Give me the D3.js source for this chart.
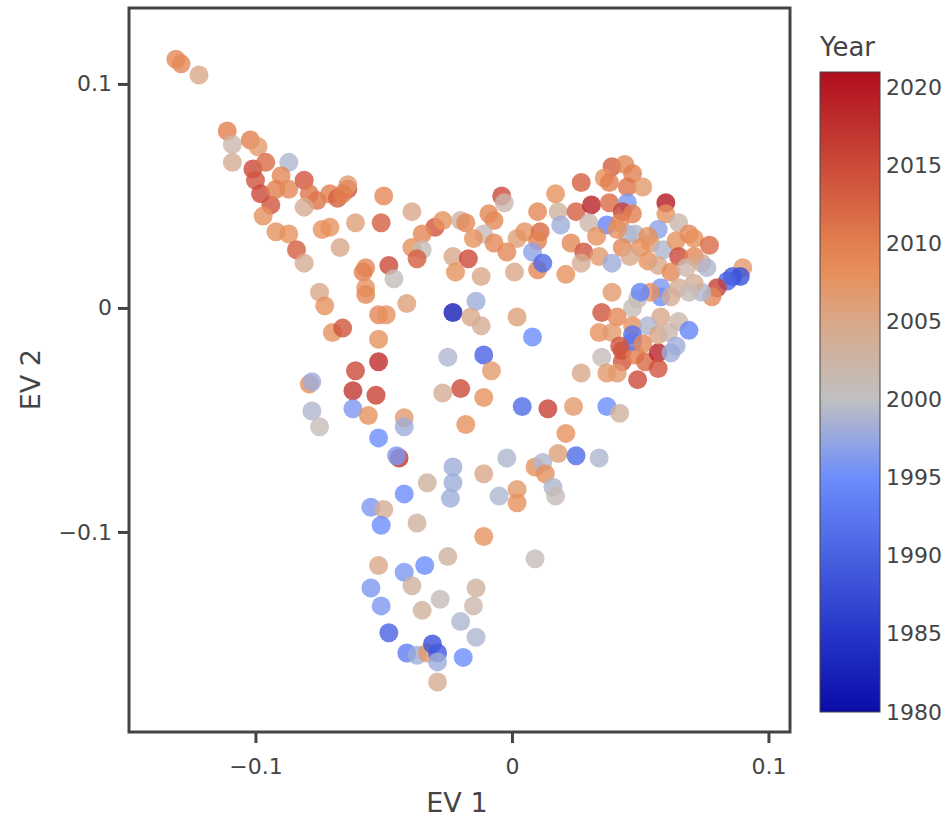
<!DOCTYPE html>
<html>
<head>
<meta charset="utf-8">
<script src="https://cdn.jsdelivr.net/npm/d3@7"></script>
<style>
  body { margin: 0; background: #fff; }
  svg text { font-family: "DejaVu Sans", Verdana, sans-serif; fill: #444; }
</style>
</head>
<body>
<div id="main_div"></div>
<script>
/** data **/
const ev1 = [
  -0.131,-0.129,-0.122,-0.111,-0.109,-0.102,-0.099,-0.109,-0.101,-0.096,
  -0.087,-0.100,-0.090,-0.098,-0.094,-0.092,-0.087,-0.081,-0.079,-0.076,
  -0.081,-0.071,-0.068,-0.064,-0.064,-0.066,-0.097,-0.092,-0.087,-0.074,
  -0.071,-0.061,-0.051,-0.050,-0.084,-0.081,-0.067,-0.057,-0.058,-0.057,
  -0.057,-0.075,-0.073,-0.070,-0.066,-0.052,-0.049,-0.052,-0.052,-0.061,
  -0.062,-0.053,-0.079,-0.078,-0.062,-0.056,-0.078,-0.075,
  -0.039,-0.030,-0.027,-0.020,-0.018,-0.035,-0.039,-0.035,-0.037,-0.009,
  -0.007,-0.004,-0.003,-0.011,-0.015,-0.007,0.002,0.005,0.011,0.010,
  0.010,0.017,0.018,0.019,0.025,0.027,0.031,0.030,0.023,0.028,
  0.027,-0.048,-0.046,-0.023,-0.017,-0.022,-0.012,-0.002,0.001,0.008,
  0.010,0.012,0.021,-0.041,-0.023,-0.014,-0.016,-0.012,0.002,0.008,
  -0.042,-0.042,-0.044,-0.045,-0.052,-0.025,-0.011,-0.008,-0.020,-0.027,
  -0.011,-0.018,0.004,0.014,0.024,0.027,0.021,0.018,0.025,0.034,
  -0.002,0.009,0.012,0.013,0.016,0.017,-0.023,-0.023,-0.024,-0.033,
  -0.011,-0.005,0.002,0.002,-0.042,-0.055,-0.050,-0.051,-0.037,-0.011,
  0.009,-0.025,-0.052,-0.042,-0.034,-0.039,-0.055,-0.014,-0.028,-0.015,
  -0.035,-0.051,-0.020,-0.048,-0.014,-0.041,-0.037,-0.033,-0.031,-0.029,
  -0.029,-0.019,-0.029,
  0.035,0.043,0.043,0.048,0.052,0.057,0.057,0.049,0.062,0.037,
  0.041,0.047,0.037,0.042,
  0.039,0.044,0.047,0.036,0.038,0.045,0.051,0.038,0.045,0.043,
  0.047,0.060,0.060,0.065,0.037,0.042,0.045,0.048,0.057,0.053,
  0.041,0.033,0.054,0.043,0.050,0.059,0.064,0.069,0.071,0.077,
  0.065,0.071,0.034,0.039,0.046,0.053,0.057,0.062,0.074,0.076,
  0.068,0.090,0.086,0.089,0.084,0.080,0.078,0.074,0.071,0.065,
  0.058,0.058,0.054,0.062,0.069,0.039,0.049,0.050,0.047,0.058,
  0.065,0.069,0.035,0.041,0.047,0.053,0.047,0.034,0.039,0.057,
  0.061,0.042,0.064,0.051
];
const ev2 = [
  0.111,0.109,0.104,0.079,0.073,0.075,0.072,0.065,0.062,0.065,
  0.065,0.057,0.059,0.051,0.046,0.053,0.053,0.057,0.051,0.048,
  0.045,0.051,0.049,0.053,0.055,0.051,0.041,0.034,0.033,0.035,
  0.036,0.038,0.038,0.050,0.026,0.020,0.027,0.018,0.016,0.009,
  0.006,0.007,0.001,-0.011,-0.009,-0.003,-0.003,-0.014,-0.024,-0.028,
  -0.037,-0.039,-0.034,-0.033,-0.045,-0.048,-0.046,-0.053,
  0.043,0.036,0.039,0.039,0.038,0.033,0.027,0.026,0.022,0.042,
  0.039,0.050,0.047,0.033,0.031,0.029,0.031,0.034,0.034,0.043,
  0.030,0.051,0.043,0.037,0.043,0.056,0.046,0.038,0.029,0.025,
  0.020,0.019,0.013,0.023,0.022,0.016,0.014,0.025,0.016,0.025,
  0.017,0.020,0.015,0.002,-0.002,0.003,-0.004,-0.008,-0.004,-0.013,
  -0.049,-0.053,-0.067,-0.066,-0.058,-0.022,-0.021,-0.028,-0.036,-0.038,
  -0.040,-0.052,-0.044,-0.045,-0.044,-0.029,-0.056,-0.065,-0.066,-0.067,
  -0.067,-0.071,-0.069,-0.074,-0.080,-0.084,-0.071,-0.078,-0.085,-0.078,
  -0.074,-0.084,-0.081,-0.087,-0.083,-0.089,-0.090,-0.097,-0.096,-0.102,
  -0.112,-0.111,-0.115,-0.118,-0.115,-0.124,-0.125,-0.125,-0.130,-0.133,
  -0.135,-0.133,-0.140,-0.145,-0.147,-0.154,-0.155,-0.154,-0.150,-0.154,
  -0.158,-0.156,-0.167,
  -0.022,-0.019,-0.024,-0.021,-0.024,-0.020,-0.027,-0.032,-0.020,-0.029,
  -0.029,-0.015,-0.044,-0.047,
  0.063,0.064,0.060,0.058,0.056,0.054,0.054,0.047,0.047,0.043,
  0.042,0.047,0.042,0.038,0.037,0.038,0.033,0.033,0.035,0.032,
  0.035,0.032,0.029,0.027,0.027,0.026,0.030,0.033,0.031,0.028,
  0.023,0.023,0.023,0.020,0.023,0.021,0.019,0.016,0.020,0.018,
  0.018,0.018,0.014,0.014,0.012,0.009,0.005,0.007,0.011,0.009,
  0.009,0.005,0.007,0.005,0.007,0.007,0.004,0.007,0.000,-0.004,
  -0.006,-0.010,-0.002,-0.004,-0.008,-0.008,-0.012,-0.011,-0.011,-0.012,
  -0.011,-0.017,-0.017,-0.016
];
const years = [
  2009,2009,2005,2010,2002,2010,2007,2004,2015,2012,
  1999,2014,2009,2015,2014,2010,2009,2014,2011,2011,
  2004,2010,2013,2014,2007,2010,2008,2008,2008,2008,
  2008,2006,2013,2009,2013,2004,2005,2009,2010,2008,
  2009,2005,2008,2008,2014,2009,2008,2008,2018,2015,
  2017,2016,2008,1998,1996,2008,1999,2001,
  2005,2014,2008,2003,2009,2009,2008,2001,2013,2009,
  2009,2015,2002,2001,2008,2009,2006,2008,2012,2009,
  2010,2008,2003,1998,2013,2013,2019,2002,2009,2014,
  2004,2015,2001,2005,2015,2008,2005,2009,2005,1997,
  2009,1991,2008,2006,1982,1998,2005,2004,2006,1995,
  2007,1998,2017,1996,1995,1999,1990,2007,2015,2004,
  2008,2008,1991,2016,2007,2005,2008,2006,1991,1999,
  1999,2008,1999,2008,1999,2001,1998,1998,1998,2003,
  2005,1999,2007,2008,1995,1996,2004,1995,2003,2008,
  2001,2003,2005,1996,1995,2003,1996,2003,2001,2002,
  2003,1996,1999,1990,1999,1993,1998,2007,1988,1989,
  1998,1995,2004,
  2001,2015,2014,2010,2012,2019,2014,2015,1998,2007,
  2007,1993,1995,2003,
  2013,2009,2010,2008,2010,2011,2007,2012,1996,2016,
  2010,2020,2008,2002,1994,2009,1999,1999,1997,2008,
  2008,2008,2007,2009,2008,1999,2008,2009,2008,2012,
  2015,2009,2007,1998,2005,2008,2005,2009,2005,1999,
  2002,2007,1989,1988,1990,2016,2009,1999,2004,2004,
  1996,1995,2008,2004,2001,2007,2001,1994,2001,2005,
  2002,1994,2014,2009,2008,1999,1992,2008,2007,2005,
  2002,2014,1998,2009
];

/** colour scale stops (Year) **/
const colorYears = [1980, 1985, 1990, 1995, 2000, 2005, 2008, 2010, 2015, 2021];
const colorHex = ["#0b0ca8", "#2536c9", "#4862e2", "#6c8dfd", "#c0c0c2",
                  "#d9a888", "#e6915c", "#e27f4f", "#cb4a38", "#b00e1e"];
const xTicks = [-0.1, 0, 0.1];
const yTicks = [-0.1, 0, 0.1];
const cTicks = [1980, 1985, 1990, 1995, 2000, 2005, 2010, 2015, 2020];

const W = 948, H = 818;
const plot = { left: 129, right: 790, top: 8, bottom: 732 };
const cbar = { x: 820, w: 60, top: 72, bottom: 712 };

let svg, xScale, yScale, color;

render();

function render() {
    svg = d3.select("#main_div").append("svg")
        .attr("width", W).attr("height", H);

    xScale = d3.scaleLinear().domain([-0.1493, 0.1084]).range([plot.left, plot.right]);
    yScale = d3.scaleLinear().domain([-0.1893, 0.1339]).range([plot.bottom, plot.top]);
    color = d3.scaleLinear().domain(colorYears).range(colorHex).interpolate(d3.interpolateRgb);

    drawPoints();
    drawAxes();
    drawColorbar();
}

function drawPoints() {
    let pts = ev1.map((x, i) => ({ x: x, y: ev2[i], yr: years[i] }));
    svg.append("g").attr("id", "plots")
        .selectAll("circle")
        .data(pts)
        .enter().append("circle")
        .attr("cx", d => xScale(d.x))
        .attr("cy", d => yScale(d.y))
        .attr("r", 9.5)
        .style("fill", d => color(d.yr))
        .style("fill-opacity", 0.8);
}

function fmt(d) {
    return d === 0 ? "0" : d3.format(".1f")(d).replace("-", "\u2212");
}

function drawAxes() {
    /** frame **/
    svg.append("rect")
        .attr("x", plot.left).attr("y", plot.top)
        .attr("width", plot.right - plot.left)
        .attr("height", plot.bottom - plot.top)
        .attr("fill", "none")
        .attr("stroke", "#444")
        .attr("stroke-width", 3);

    let xAxis = d3.axisBottom(xScale).tickValues(xTicks).tickSize(11).tickPadding(15).tickFormat(fmt);
    let yAxis = d3.axisLeft(yScale).tickValues(yTicks).tickSize(11).tickPadding(6).tickFormat(fmt);

    let gx = svg.append("g").attr("transform", "translate(0," + plot.bottom + ")").call(xAxis);
    let gy = svg.append("g").attr("transform", "translate(" + plot.left + ",0)").call(yAxis);
    [gx, gy].forEach(g => {
        g.select(".domain").remove();
        g.selectAll(".tick line").attr("stroke", "#444").attr("stroke-width", 3);
        g.selectAll(".tick text").style("font-size", "22px").attr("fill", "#444");
    });

    svg.append("text")
        .text("EV 1")
        .attr("x", (xScale(-0.1) + xScale(0.1)) / 2 - 55)
        .attr("y", 812)
        .attr("text-anchor", "middle")
        .style("font-size", "27px");

    svg.append("text")
        .text("EV 2")
        .attr("transform", "translate(40," + yScale(-0.032) + ") rotate(-90)")
        .attr("text-anchor", "middle")
        .style("font-size", "27px");
}

function drawColorbar() {
    let cScale = d3.scaleLinear().domain([1980, 2021]).range([cbar.bottom, cbar.top]);

    let grad = svg.append("defs").append("linearGradient")
        .attr("id", "cgrad")
        .attr("x1", 0).attr("y1", 1).attr("x2", 0).attr("y2", 0);
    colorYears.forEach((y, i) => {
        grad.append("stop")
            .attr("offset", (y - 1980) / (2021 - 1980))
            .attr("stop-color", colorHex[i]);
    });

    svg.append("rect")
        .attr("x", cbar.x).attr("y", cbar.top)
        .attr("width", cbar.w).attr("height", cbar.bottom - cbar.top)
        .attr("fill", "url(#cgrad)")
        .attr("stroke", "#444")
        .attr("stroke-width", 1);

    let cAxis = d3.axisRight(cScale).tickValues(cTicks).tickSize(0).tickPadding(6)
        .tickFormat(d3.format("d"));
    let gc = svg.append("g").attr("transform", "translate(" + (cbar.x + cbar.w) + ",0)").call(cAxis);
    gc.select(".domain").remove();
    gc.selectAll(".tick text").style("font-size", "22px").attr("fill", "#444");

    svg.append("text")
        .text("Year")
        .attr("x", cbar.x)
        .attr("y", 56)
        .style("font-size", "26px");
}
</script>
</body>
</html>
